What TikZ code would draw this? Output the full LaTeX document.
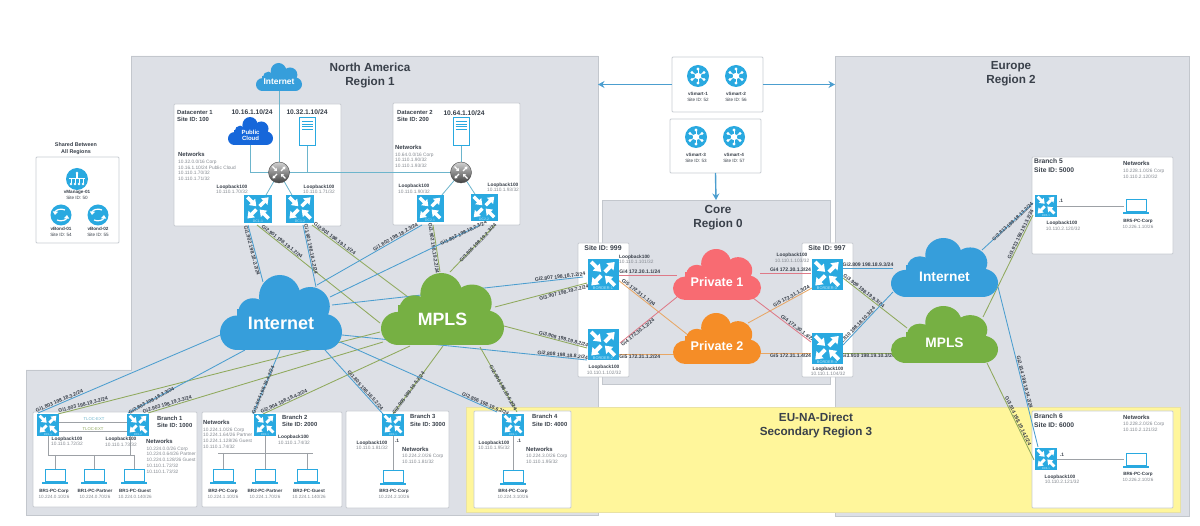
\documentclass[tikz,border=0pt]{standalone}
\usepackage{fontspec}
\setmainfont{Liberation Sans}
\usetikzlibrary{arrows.meta}
\definecolor{regionc}{HTML}{DDE0E6}
\definecolor{regionl}{HTML}{C3C7CD}
\definecolor{yellowc}{HTML}{FFF69B}
\definecolor{yellowl}{HTML}{E9E2A4}
\definecolor{boxl}{HTML}{C8CCD2}
\definecolor{ciscoc}{HTML}{29A9E0}
\definecolor{routertxt}{HTML}{BDE6F8}
\definecolor{cloudb}{HTML}{369EDB}
\definecolor{cloudg}{HTML}{76B043}
\definecolor{cloudr}{HTML}{F86B72}
\definecolor{cloudo}{HTML}{F58D27}
\definecolor{cloudd}{HTML}{1667DA}
\definecolor{lnkblue}{HTML}{4C9ECF}
\definecolor{lnkgreen}{HTML}{8FA95C}
\definecolor{lnkred}{HTML}{DE7A88}
\definecolor{lnkorange}{HTML}{E8A765}
\definecolor{lnkteal}{HTML}{6DB5CC}
\definecolor{wirec}{HTML}{9DA1A6}
\definecolor{darktx}{HTML}{39404A}
\definecolor{graytx}{HTML}{858A91}
\pgfdeclarelayer{bg}
\pgfdeclarelayer{links}
\pgfsetlayers{bg,links,main}
\tikzset{
  region/.style={fill=regionc,draw=regionl,line width=.7pt},
  whitebox/.style={fill=white,draw=boxl,line width=.8pt,rounded corners=1pt},
  lnkB/.style={draw=lnkblue,line width=.85pt},
  lnkG/.style={draw=lnkgreen,line width=.85pt},
  lnkR/.style={draw=lnkred,line width=.85pt},
  lnkO/.style={draw=lnkorange,line width=.85pt},
  tealw/.style={draw=lnkteal,line width=.8pt},
  wire/.style={draw=wirec,line width=.7pt},
  ctlarrow/.style={draw=lnkblue,line width=1.4pt,-{Stealth[length=6.5pt,width=7pt]}},
  lab/.style={sloped,inner sep=0pt,text=darktx,font=\fontsize{5.1}{5.1}\selectfont\bfseries},
  txt/.style={inner sep=0pt,align=center,text=darktx},
  title/.style={txt,font=\fontsize{11.7}{12}\selectfont\bfseries},
  sitetx/.style={txt,anchor=west,font=\fontsize{5.9}{6}\selectfont\bfseries},
  sitebig/.style={txt,font=\fontsize{6.9}{7}\selectfont\bfseries},
  iptx/.style={txt,font=\fontsize{6.7}{7}\selectfont\bfseries},
  nethd/.style={txt,anchor=west,font=\fontsize{5.9}{6}\selectfont\bfseries},
  netln/.style={txt,anchor=west,text=graytx,font=\fontsize{4.8}{5}\selectfont},
  lphd/.style={txt,font=\fontsize{4.8}{5}\selectfont\bfseries},
  lpip/.style={txt,text=graytx,font=\fontsize{4.8}{5}\selectfont},
  pchd/.style={txt,font=\fontsize{4.6}{5}\selectfont\bfseries},
  pcip/.style={txt,text=graytx,font=\fontsize{4.6}{5}\selectfont},
  ctlhd/.style={txt,font=\fontsize{4.6}{5}\selectfont\bfseries},
  ctlip/.style={txt,font=\fontsize{4.6}{5}\selectfont},
  tloc/.style={txt,text=lnkgreen,font=\fontsize{4.2}{5}\selectfont},
  ctlc/.style={circle,fill=ciscoc,inner sep=0pt,outer sep=0pt},
}
\newcounter{tn}
\newcommand\tx[4][]{\stepcounter{tn}\node[#1] (t\arabic{tn}) at (#2,#3) {\vphantom{Ag}#4};}
% region / box helper: name, x1, y1, x2, y2, style
\newcommand\boxN[6]{%
  \pgfmathsetmacro\bw{#4-#2}\pgfmathsetmacro\bh{#5-#3}%
  \pgfmathsetmacro\bx{(#2+#4)/2}\pgfmathsetmacro\by{(#3+#5)/2}%
  \node[#6,inner sep=0pt,outer sep=0pt,minimum width=\bw pt,minimum height=\bh pt] (#1) at (\bx,\by) {};}
% cloud: name, cx, cy, w, h, colour, text, fontsize
\newcommand\cloudN[8]{%
  \begin{scope}[shift={(#2-#4/2,#3-#5/2)},x=#4pt,y=-#5pt,fill=#6]
    \fill (.49,.29) ellipse [x radius=.17,y radius=.29];
    \fill (.27,.50) ellipse [x radius=.12,y radius=.19];
    \fill (.14,.77) ellipse [x radius=.14,y radius=.23];
    \fill (.74,.42) ellipse [x radius=.16,y radius=.26];
    \fill (.855,.76) ellipse [x radius=.145,y radius=.24];
    \fill (.14,.45) rectangle (.855,1);
  \end{scope}
  \node[inner sep=0pt,outer sep=0pt,minimum width=#4pt,minimum height=#5pt] (#1) at (#2,#3) {};
  \node[inner sep=0pt,align=center,text=white,font=\fontsize{#8}{#8}\selectfont\bfseries] (#1T) at (#2,#3+.15*#5) {#7};}
% router: name, x, y, size, label
\newcommand\routerN[5]{%
  \pgfmathsetmacro\rlw{.125*#4}\pgfmathsetmacro\ral{.22*#4}\pgfmathsetmacro\raw{.31*#4}\pgfmathsetmacro\rfs{.125*#4}%
  \node[fill=ciscoc,inner sep=0pt,outer sep=0pt,minimum size=#4pt] (#1) at (#2,#3) {};
  \begin{scope}[shift={(#2,#3)},x=#4pt,y=-#4pt,white,line width=\rlw pt,-{Triangle[length=\ral pt,width=\raw pt]}]
    \draw (-.38,-.42) -- (-.06,-.10);
    \draw (.06,-.10) -- (.38,-.42);
    \draw (-.06,.02) -- (-.38,.34);
    \draw (.38,.34) -- (.06,.02);
  \end{scope}
  \node[inner sep=0pt,text=routertxt,font=\fontsize{\rfs}{\rfs}\selectfont] (#1T) at (#2,#3+.43*#4) {#5};}
% link: style, from, offset, to, offset, pos, label options, label
\newcommand\lnk[8]{\draw[#1] ([shift={(#3)}]#2.center) -- node[lab,pos=#6,#7] {#8} ([shift={(#5)}]#4.center);}
% laptop
\newcommand\laptopN[3]{%
  \node[inner sep=0pt,outer sep=0pt,minimum width=24pt,minimum height=14pt] (#1) at (#2,#3) {};
  \draw[ciscoc,line width=1pt,fill=white] (#2-10,#3-7) rectangle (#2+10,#3+4.5);
  \draw[ciscoc,line width=1.7pt] (#2-13,#3+6) -- (#2+13,#3+6);}
% server
\newcommand\serverN[3]{%
  \node[draw=ciscoc,line width=1pt,fill=white,inner sep=0pt,minimum width=16pt,minimum height=28pt] (#1) at (#2,#3) {};
  \foreach \q in {3.5,6,8.5,11} {\draw[ciscoc,line width=.8pt] (#2-5.5,#3-14+\q) -- (#2+5.5,#3-14+\q);}}
% hub router
\newcommand\hubN[3]{%
  \node[circle,draw=black!70,line width=.4pt,top color=gray!35,bottom color=black!75,inner sep=0pt,minimum size=21pt] (#1) at (#2,#3) {};
  \begin{scope}[shift={(#2,#3)},white,line width=1.2pt,-{Triangle[length=2.6pt,width=3.6pt]}]
    \draw (-6.5,-6) -- (-2,-1.5);
    \draw (2,-1.5) -- (6.5,-6);
    \draw (-2,1.5) -- (-6.5,6);
    \draw (6.5,6) -- (2,1.5);
  \end{scope}}
% vSmart icon
\newcommand\vsmartN[3]{%
  \node[ctlc,minimum size=22pt] (#1) at (#2,#3) {};
  \begin{scope}[shift={(#2,#3)}]
    \foreach \q in {30,90,...,330} {
      \draw[white,line width=.8pt] (0,0) -- (\q:7);
      \fill[white] (\q:7) circle (1.6);}
    \fill[white] (0,0) circle (3.2);
  \end{scope}}
% vManage icon
\newcommand\vmanageN[3]{%
  \node[ctlc,minimum size=22pt] (#1) at (#2,#3) {};
  \begin{scope}[shift={(#2,#3)},white]
    \draw[line width=1.6pt] (-8,-.5) -- (8,-.5);
    \draw[line width=1.2pt] (0,-.5) -- (0,-6);
    \fill (0,-6) circle (1.4);
    \foreach \q in {-6,-2,2,6} {\draw[line width=1pt] (\q,-.5) -- (\q,4); \fill (\q,5) circle (1.3);}
  \end{scope}}
% vBond icon
\newcommand\vbondN[3]{%
  \node[ctlc,minimum size=21pt] (#1) at (#2,#3) {};
  \begin{scope}[shift={(#2,#3)},white,line width=1.2pt]
    \draw[-{Triangle[length=3.5pt,width=5pt]}] (4,-5) .. controls (0,-7) and (-5.5,-5) .. (-6,0);
    \draw[-{Triangle[length=3.5pt,width=5pt]}] (-4,5) .. controls (0,7) and (5.5,5) .. (6,0);
  \end{scope}}
\begin{document}
\begin{tikzpicture}[x=1pt,y=-1pt]
\useasboundingbox (0,0) rectangle (1200,526);
\begin{pgfonlayer}{bg}
  \draw[region] (131,56) -- (598,56) -- (598,515) -- (26,515) -- (26,370) -- (131,370) -- cycle;
  \boxN{europe}{835}{56}{1189}{516}{region}
  \boxN{core}{602}{200}{830}{384}{region}
  \boxN{secondary}{466}{407}{1180}{512}{fill=yellowc,draw=yellowl,line width=.7pt}
  \boxN{site999}{578}{243}{629}{377}{whitebox}
  \boxN{site997}{802}{243}{853}{377}{whitebox}
  \boxN{dc1box}{174}{104}{341}{226}{whitebox}
  \boxN{dc2box}{393}{103}{520}{225}{whitebox}
  \boxN{sharedbox}{36}{157}{119}{243}{whitebox}
  \boxN{vsA}{672}{57}{763}{112}{whitebox}
  \boxN{vsB}{670}{119}{761}{173}{whitebox}
  \boxN{br1box}{33}{412}{197}{507}{whitebox}
  \boxN{br2box}{202}{412}{342}{507}{whitebox}
  \boxN{br3box}{346}{411}{449}{508}{whitebox}
  \boxN{br4box}{474}{411}{571}{508}{whitebox}
  \boxN{br5box}{1032}{157}{1173}{254}{whitebox}
  \boxN{br6box}{1032}{411}{1173}{508}{whitebox}
\end{pgfonlayer}

% titles
\tx[title]{370}{69}{North America}
\tx[title]{370}{83}{Region 1}
\tx[title]{1011}{66.5}{Europe}
\tx[title]{1011}{80.5}{Region 2}
\tx[title]{718}{210.5}{Core}
\tx[title]{718}{224.5}{Region 0}
\tx[title]{816}{418.5}{EU-NA-Direct}
\tx[title]{816}{432.5}{Secondary Region 3}
\tx[txt,font=\fontsize{5.4}{6}\selectfont\bfseries]{76}{145}{Shared Between}
\tx[txt,font=\fontsize{5.4}{6}\selectfont\bfseries]{76}{152}{All Regions}

% clouds
\cloudN{inetS}{279}{77}{46}{28}{cloudb}{Internet}{8.4}
\cloudN{pub}{250.5}{131}{45}{28}{cloudd}{Public\\[-.5pt]Cloud}{6}
\cloudN{inetB}{281}{312.5}{122}{75}{cloudb}{Internet}{18}
\cloudN{mplsB}{442.5}{309}{123}{72}{cloudg}{MPLS}{17.8}
\cloudN{prv1}{717}{274.5}{88}{51}{cloudr}{Private 1}{12.6}
\cloudN{prv2}{717}{338.5}{88}{51}{cloudo}{Private 2}{12.6}
\cloudN{inetR}{944.5}{267.5}{107}{59}{cloudb}{Internet}{13.8}
\cloudN{mplsR}{944.5}{334.5}{107}{57}{cloudg}{MPLS}{13.7}

% routers
\routerN{dc11}{258}{209}{28}{DC1-1}
\routerN{dc12}{300}{209}{28}{DC1-2}
\routerN{dc21}{430}{209}{27}{DC2-1}
\routerN{dc22}{484}{208}{27}{DC2-2}
\routerN{b1}{603}{275}{31}{BORDER-1}
\routerN{b2}{603}{345}{31}{BORDER-2}
\routerN{b3}{827}{275}{31}{BORDER-3}
\routerN{b4}{827}{349}{31}{BORDER-4}
\routerN{r11}{48}{425}{22}{BR1-1}
\routerN{r12}{138}{425}{22}{BR1-2}
\routerN{r2}{265}{425}{22}{BR2-1}
\routerN{r3}{393}{425}{22}{BR3-1}
\routerN{r4}{513}{425}{22}{BR4-1}
\routerN{r5}{1046}{206}{22}{BR5-1}
\routerN{r6}{1046}{459}{22}{BR6-1}
\hubN{hub1}{279}{172.5}
\hubN{hub2}{461}{172.5}
\serverN{srv32}{307.5}{132}
\serverN{srv64}{461}{132}

% controllers
\vsmartN{vs1}{698}{76}
\vsmartN{vs2}{736}{76}
\vsmartN{vs3}{696}{137}
\vsmartN{vs4}{734}{137}
\vmanageN{vm1}{77}{179}
\vbondN{vb1}{61}{215}
\vbondN{vb2}{98}{215}
\tx[ctlhd]{698}{94}{vSmart-1}\tx[ctlip]{698}{100}{Site ID: 52}
\tx[ctlhd]{736}{94}{vSmart-2}\tx[ctlip]{736}{100}{Site ID: 56}
\tx[ctlhd]{696}{155}{vSmart-3}\tx[ctlip]{696}{161}{Site ID: 53}
\tx[ctlhd]{734}{155}{vSmart-4}\tx[ctlip]{734}{161}{Site ID: 57}
\tx[ctlhd]{77}{192}{vManage-01}\tx[ctlip]{77}{198}{Site ID: 50}
\tx[ctlhd]{61}{229}{vBond-01}\tx[ctlip]{61}{235}{Site ID: 54}
\tx[ctlhd]{98}{229.5}{vBond-02}\tx[ctlip]{98}{235.5}{Site ID: 55}

% laptops
\laptopN{pc1a}{55}{477}\laptopN{pc1b}{94}{477}\laptopN{pc1c}{134}{477}
\laptopN{pc2a}{223}{477}\laptopN{pc2b}{265}{477}\laptopN{pc2c}{307}{477}
\laptopN{pc3}{393}{478}\laptopN{pc4}{513}{478}
\laptopN{pc5}{1136}{207}\laptopN{pc6}{1136}{461}

% control arrows and internal wires
\coordinate (naEdge) at (598,84.5);
\coordinate (euEdge) at (835,84.5);
\coordinate (bus1a) at (48,455);
\coordinate (bus1b) at (134,455);
\coordinate (bus2a) at (218,453);
\coordinate (bus2b) at (313,453);
\begin{pgfonlayer}{links}
  \draw[ctlarrow] (vsA.west) -- (naEdge);
  \draw[ctlarrow] (vsA.east) -- (euEdge);
  \draw[ctlarrow] (vsB.south) -- (core.north);
  % datacenter
  \draw[tealw] (inetS.south) -- (hub1.center);
  \draw[tealw] (pub.south) |- (hub1.center);
  \draw[tealw] (hub1.center) -- (hub2.center);
  \draw[tealw] (srv32.south) -- (srv32.south |- hub1.center);
  \draw[tealw] (srv64.south) -- (hub2.center);
  \draw[tealw] (hub1.center) -- (dc11.center);
  \draw[tealw] (hub1.center) -- (dc12.center);
  \draw[tealw] (hub2.center) -- (dc21.center);
  \draw[tealw] (hub2.center) -- (dc22.center);
  % branch wires
  \draw[wire] ([shift={(0,-3)}]r11.east) -- ([shift={(0,-3)}]r12.west);
  \draw[wire] ([shift={(0,6.5)}]r11.east) -- ([shift={(0,6.5)}]r12.west);
  \draw[wire] (r11.south) -- (bus1a) -- (bus1b);
  \draw[wire] ([xshift=-8pt]r12.south) -- ([xshift=-8pt]r12.south |- bus1a);
  \draw[wire] (pc1a.north |- bus1a) -- (pc1a.north);
  \draw[wire] (pc1b.north |- bus1a) -- (pc1b.north);
  \draw[wire] (pc1c.north |- bus1a) -- (pc1c.north);
  \draw[wire] (bus2a) -- (bus2b);
  \draw[wire] (r2.south) -- (pc2b.north);
  \draw[wire] (pc2a.north |- bus2a) -- (pc2a.north);
  \draw[wire] (pc2c.north |- bus2a) -- (pc2c.north);
  \draw[wire] (r3.south) -- (pc3.north);
  \draw[wire] (r4.south) -- (pc4.north);
  \draw[wire] (r5.east) -- (r5.east -| pc5.west);
  \draw[wire] (r6.east) -- (r6.east -| pc6.west);
  % WAN links
  \lnk{lnkB}{dc11}{-10,16}{inetB}{-18,-30.5}{.44}{below=.3pt}{Gi1.902 198.18.2.2/24}
  \lnk{lnkG}{dc11}{-1,16}{mplsB}{-62.5,14}{.19}{above=.5pt}{Gi2.901 198.19.1.2/24}
  \lnk{lnkB}{dc12}{3,16}{inetB}{35,-25.5}{.4}{above=.5pt}{Gi1.901 198.18.1.2/24}
  \lnk{lnkG}{dc12}{12,16}{mplsB}{-34.5,-12}{.22}{above=.5pt}{Gi2.901 198.19.1.1/24}
  \lnk{lnkB}{dc21}{-8,16}{inetB}{36,-27.5}{.24}{above=.5pt}{Gi1.802 198.18.2.3/24}
  \lnk{lnkG}{dc21}{3,16}{mplsB}{-2.5,-37}{.49}{below=.3pt}{Gi3.902 198.19.2.2/24}
  \lnk{lnkB}{dc22}{-4,17}{inetB}{49,-15.5}{.11}{}{Gi1.802 198.18.2.3/24}
  \lnk{lnkG}{dc22}{11,17}{mplsB}{7.5,-37}{.38}{}{Gi3.805 198.19.2.3/24}
  \lnk{lnkB}{b1}{-20,2}{inetB}{51,-7.5}{.09}{above=.5pt}{Gi2.807 198.18.7.2/24}
  \lnk{lnkG}{b1}{-16,8}{mplsB}{52.5,-2}{.26}{below=.8pt}{Gi3.907 198.19.7.2/24}
  \lnk{lnkG}{b2}{-16,3}{mplsB}{61.5,17}{.29}{above=.5pt}{Gi3.908 198.19.8.2/24}
  \lnk{lnkB}{b2}{-16,15}{inetB}{61,22.5}{.10}{above=.2pt}{Gi2.808 198.18.8.2/24}
  \lnk{lnkB}{r11}{-10,-12}{inetB}{-56,20.5}{.12}{above=.5pt}{Gi1.803 198.18.3.2/24}
  \lnk{lnkG}{r11}{10,-11}{mplsB}{-62.5,23}{.08}{above=.5pt}{Gi1.903 198.19.3.2/24}
  \lnk{lnkB}{r12}{-10,-12}{inetB}{-36,37.5}{.2}{}{Gi2.803 198.18.3.3/24}
  \lnk{lnkG}{r12}{10,-12}{mplsB}{-59.5,33}{.085}{above=.5pt}{Gi2.903 198.19.3.3/24}
  \lnk{lnkB}{r2}{-12,-11}{inetB}{-1,37.5}{.375}{}{Gi1.804 198.18.4.2/24}
  \lnk{lnkG}{r2}{-2,-11}{mplsB}{-32.5,37}{.15}{above=.5pt}{Gi2.904 198.19.4.2/24}
  \lnk{lnkB}{r3}{-10,-11}{inetB}{44,37.5}{.34}{above=.5pt}{Gi1.805 198.18.5.2/24}
  \lnk{lnkG}{r3}{0,-11}{mplsB}{.5,37}{.31}{}{Gi2.905 198.19.5.2/24}
  \lnk{lnkB}{r4}{-16,-13}{inetB}{59,29.5}{.08}{above=.5pt}{Gi2.806 198.18.6.2/24}
  \lnk{lnkG}{r4}{4,-13}{mplsB}{37.5,38}{.37}{}{Gi2.906 198.19.6.2/24}
  \lnk{lnkB}{b3}{16,-7}{inetR}{-51.5,.5}{.5}{above=.5pt}{Gi2.809 198.18.9.3/24}
  \lnk{lnkG}{b3}{16,3}{mplsR}{-37.5,-6.5}{.3}{above=.5pt}{Gi3.909 198.19.9.3/24}
  \lnk{lnkB}{b4}{16,-4}{inetR}{-51.5,24.5}{.3}{above=.5pt}{Gi2.810 198.18.10.3/24}
  \lnk{lnkG}{b4}{16,4}{mplsR}{-51.5,18.5}{.5}{below=.5pt}{Gi3.910 198.19.10.3/24}
  \lnk{lnkB}{r5}{-13,-3}{inetR}{37.5,-17.5}{.4}{}{Gi2.813 198.18.13.2/24}
  \lnk{lnkG}{r5}{-13,9}{mplsR}{38.5,-17.5}{.2}{above=.5pt}{Gi3.913 198.19.13.2/24}
  \lnk{lnkB}{r6}{-8,-12}{inetR}{53.5,19.5}{.4}{above=.5pt}{Gi2.814 198.18.14.2/24}
  \lnk{lnkG}{r6}{-12,1}{mplsR}{42.5,28.5}{.39}{above=.5pt}{Gi3.914 198.19.14.2/24}
  % core links
  \lnk{lnkR}{b1}{15,0}{prv1}{-40,.5}{.37}{above=.8pt}{Gi4 172.30.1.1/24}
  \lnk{lnkO}{b1}{15,5}{prv2}{-29,-3.5}{.27}{above=.5pt}{Gi5 172.31.1.1/24}
  \lnk{lnkR}{b2}{17,-2}{prv1}{-40,22.5}{.28}{below=.5pt}{Gi4 172.30.1.2/24}
  \lnk{lnkO}{b2}{16,9}{prv2}{-42,15.5}{.37}{below=.8pt}{Gi5 172.31.1.2/24}
  \lnk{lnkR}{b3}{-16,-2}{prv1}{43,-1.5}{.4}{above=.5pt}{Gi4 172.30.1.3/24}
  \lnk{lnkO}{b3}{-15,13}{prv2}{31,-15.5}{.3}{above=.5pt}{Gi5 172.31.1.3/24}
  \lnk{lnkR}{b4}{-16,-7}{prv1}{36,23.5}{.26}{above=.5pt}{Gi4 172.30.1.4/24}
  \lnk{lnkO}{b4}{-16,4}{prv2}{43,14.5}{.4}{below=.5pt}{Gi5 172.31.1.4/24}
\end{pgfonlayer}

% datacenter text
\tx[sitetx]{177}{113}{Datacenter 1}\tx[sitetx]{177}{120}{Site ID: 100}
\tx[iptx]{252}{113}{10.16.1.10/24}\tx[iptx]{307}{113}{10.32.1.10/24}
\tx[nethd]{178}{155}{Networks}
\tx[netln]{178}{162}{10.32.0.0/16 Corp}
\tx[netln]{178}{167.8}{10.16.1.10/24 Public Cloud}
\tx[netln]{178}{173.6}{10.110.1.70/32}
\tx[netln]{178}{179.4}{10.110.1.71/32}
\tx[lphd]{232}{187}{Loopback100}\tx[lpip]{232}{192}{10.110.1.70/32}
\tx[lphd]{319}{187}{Loopback100}\tx[lpip]{319}{192}{10.110.1.71/32}
\tx[sitetx]{397}{113}{Datacenter 2}\tx[sitetx]{397}{120}{Site ID: 200}
\tx[iptx]{464}{113.5}{10.64.1.10/24}
\tx[nethd]{395}{148}{Networks}
\tx[netln]{395}{155}{10.64.0.0/16 Corp}
\tx[netln]{395}{160.5}{10.110.1.90/32}
\tx[netln]{395}{166}{10.110.1.93/32}
\tx[lphd]{414}{186.5}{Loopback100}\tx[lpip]{414}{192}{10.110.1.90/32}
\tx[lphd]{503}{185}{Loopback100}\tx[lpip]{503}{190}{10.110.1.93/32}

% border text
\tx[sitebig]{603}{249}{Site ID: 999}
\tx[sitebig]{827}{249}{Site ID: 997}
\tx[lphd,anchor=west]{619}{257}{Loopback100}\tx[lpip,anchor=west]{619}{262}{10.110.1.101/32}
\tx[lphd]{604}{367}{Loopback100}\tx[lpip]{604}{373}{10.110.1.102/32}
\tx[lphd]{792}{255}{Loopback100}\tx[lpip]{792}{261}{10.110.1.103/32}
\tx[lphd]{828}{369}{Loopback100}\tx[lpip]{828}{374.5}{10.110.1.104/32}

% branch 1
\tx[sitetx]{157}{419}{Branch 1}\tx[sitetx]{157}{426}{Site ID: 1000}
\tx[tloc,text=lnkteal]{94}{419}{TLOC-EXT}\tx[tloc]{93}{429}{TLOC-EXT}
\tx[lphd]{67}{439}{Loopback100}\tx[lpip]{67}{444.5}{10.110.1.72/32}
\tx[lphd]{121}{439.5}{Loopback100}\tx[lpip]{121}{445.5}{10.110.1.73/32}
\tx[nethd]{146}{442}{Networks}
\tx[netln]{146.5}{449}{10.224.0.0/26 Corp}
\tx[netln]{146.5}{454.7}{10.224.0.64/26 Partner}
\tx[netln]{146.5}{460.3}{10.224.0.128/26 Guest}
\tx[netln]{146.5}{466}{10.110.1.72/32}
\tx[netln]{146.5}{472}{10.110.1.73/32}
\tx[pchd]{54}{491}{BR1-PC-Corp}\tx[pcip]{54}{497}{10.224.0.10/26}
\tx[pchd]{95}{491}{BR1-PC-Partner}\tx[pcip]{95}{497}{10.224.0.70/26}
\tx[pchd]{135}{491}{BR1-PC-Guest}\tx[pcip]{135}{497}{10.224.0.140/26}
% branch 2
\tx[sitetx]{282}{418}{Branch 2}\tx[sitetx]{282}{425}{Site ID: 2000}
\tx[nethd]{203}{423}{Networks}
\tx[netln]{203}{430}{10.224.1.0/26 Corp}
\tx[netln]{203}{435.5}{10.224.1.64/26 Partner}
\tx[netln]{203}{441}{10.224.1.128/26 Guest}
\tx[netln]{203}{447}{10.110.1.74/32}
\tx[lphd,anchor=west]{278}{437}{Loopback100}\tx[lpip,anchor=west]{278}{443}{10.110.1.74/32}
\tx[pchd]{223}{491}{BR2-PC-Corp}\tx[pcip]{223}{497}{10.224.1.10/26}
\tx[pchd]{265}{491}{BR2-PC-Partner}\tx[pcip]{265}{497}{10.224.1.70/26}
\tx[pchd]{309}{491}{BR2-PC-Guest}\tx[pcip]{309}{497}{10.224.1.140/26}
% branch 3
\tx[sitetx]{410}{417}{Branch 3}\tx[sitetx]{410}{425}{Site ID: 3000}
\tx[lphd]{397}{441}{.1}
\tx[lphd]{372}{443}{Loopback100}\tx[lpip]{372}{448}{10.110.1.81/32}
\tx[nethd]{402}{450}{Networks}
\tx[netln]{402}{456}{10.224.2.0/26 Corp}
\tx[netln]{402}{462}{10.110.1.81/32}
\tx[pchd]{394}{491}{BR3-PC-Corp}\tx[pcip]{394}{497}{10.224.2.10/26}
% branch 4
\tx[sitetx]{532}{417}{Branch 4}\tx[sitetx]{532}{425}{Site ID: 4000}
\tx[lphd]{519}{441}{.1}
\tx[lphd]{494}{443}{Loopback100}\tx[lpip]{494}{448}{10.110.1.95/32}
\tx[nethd]{526}{450}{Networks}
\tx[netln]{526}{456}{10.224.3.0/26 Corp}
\tx[netln]{526}{462}{10.110.1.95/32}
\tx[pchd]{513}{491}{BR4-PC-Corp}\tx[pcip]{513}{497}{10.224.3.10/26}
% branch 5
\tx[sitetx,font=\fontsize{6.7}{7}\selectfont\bfseries]{1034}{162}{Branch 5}
\tx[sitetx,font=\fontsize{6.7}{7}\selectfont\bfseries]{1034}{171}{Site ID: 5000}
\tx[nethd]{1123}{164}{Networks}
\tx[netln]{1123}{171}{10.228.1.0/26 Corp}
\tx[netln]{1123}{177}{10.110.2.120/32}
\tx[lphd]{1061}{201}{.1}
\tx[lphd]{1062}{223}{Loopback100}\tx[lpip]{1063}{229}{10.110.2.120/32}
\tx[pchd]{1138}{221}{BR5-PC-Corp}\tx[pcip]{1138}{227}{10.226.1.10/26}
% branch 6
\tx[sitetx,font=\fontsize{6.7}{7}\selectfont\bfseries]{1034}{417}{Branch 6}
\tx[sitetx,font=\fontsize{6.7}{7}\selectfont\bfseries]{1034}{426}{Site ID: 6000}
\tx[nethd]{1123}{417.5}{Networks}
\tx[netln]{1123}{424}{10.228.2.0/26 Corp}
\tx[netln]{1123}{430}{10.110.2.121/32}
\tx[lphd]{1062}{455}{.1}
\tx[lphd]{1060}{477}{Loopback100}\tx[lpip]{1062}{482.5}{10.110.2.121/32}
\tx[pchd]{1138}{474}{BR6-PC-Corp}\tx[pcip]{1138}{480}{10.226.2.10/26}
\end{tikzpicture}
\end{document}
